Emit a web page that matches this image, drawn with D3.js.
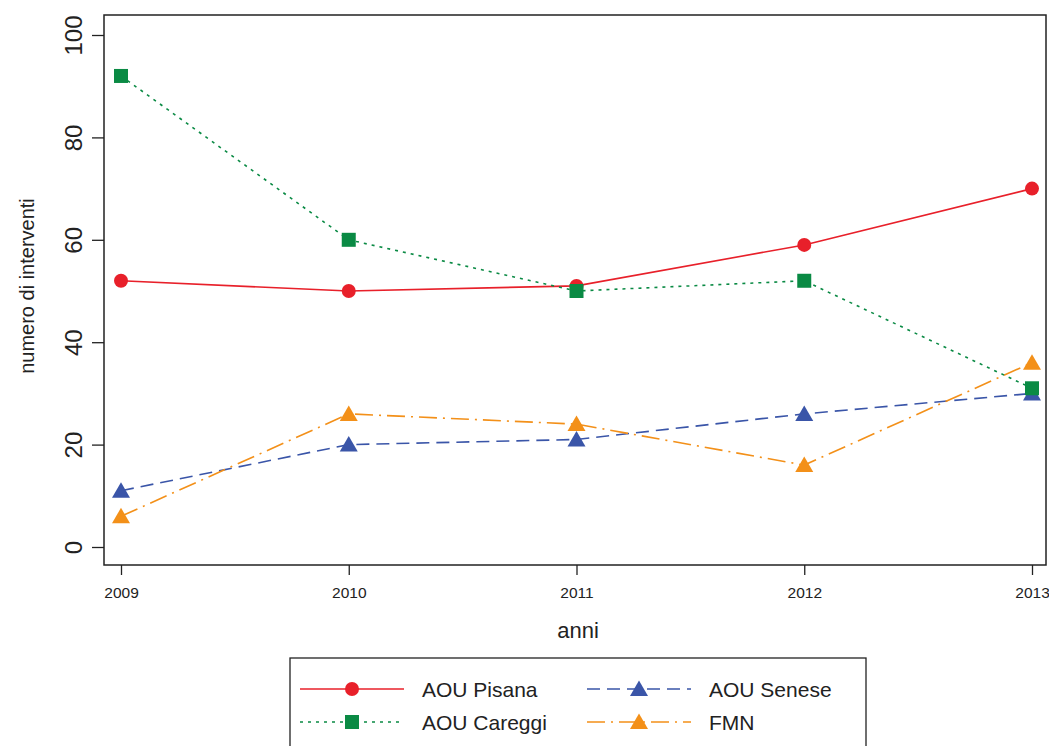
<!DOCTYPE html>
<html><head><meta charset="utf-8">
<script src="https://cdn.jsdelivr.net/npm/d3@7"></script>
<style>body{margin:0;background:#fff;} svg{display:block;font-family:"Liberation Sans",Arial,sans-serif;}</style>
</head><body>
<svg id="c" width="1049" height="746"></svg>
<script>
const years = [2009, 2010, 2011, 2012, 2013];
const pisana = [52, 50, 51, 59, 70];
const careggi = [92, 60, 50, 52, 31];
const senese = [11, 20, 21, 26, 30];
const fmn = [6, 26, 24, 16, 36];
const yTicks = [0, 20, 40, 60, 80, 100];
const seriesNames = ["AOU Pisana", "AOU Careggi", "AOU Senese", "FMN"];

const series = [
  {name: seriesNames[2], values: senese, color: "#3a55a8", dash: "13,7", marker: "triangle"},
  {name: seriesNames[3], values: fmn, color: "#f39019", dash: "18,6,2,6", marker: "triangle"},
  {name: seriesNames[0], values: pisana, color: "#e8202a", dash: null, marker: "circle"},
  {name: seriesNames[1], values: careggi, color: "#0a8a44", dash: "3,5", marker: "square"}
];

const svg = d3.select("#c");
const box = {left: 104, right: 1046, top: 15, bottom: 565};
const x = d3.scalePoint().domain(years).range([121, 1032]);
const y = d3.scaleLinear().domain([0, 100]).range([547, 35]);

svg.append("rect").attr("x", box.left).attr("y", box.top)
  .attr("width", box.right - box.left).attr("height", box.bottom - box.top)
  .attr("fill", "none").attr("stroke", "#222").attr("stroke-width", 1.5);

// y axis
const yAxis = svg.append("g").attr("transform", `translate(${box.left},0)`)
  .call(d3.axisLeft(y).tickValues(yTicks).tickSize(12).tickFormat(d3.format("d")));
yAxis.select(".domain").remove();
yAxis.selectAll(".tick line").attr("stroke", "#222").attr("stroke-width", 1.3);
yAxis.selectAll(".tick text").attr("font-size", 24).attr("fill", "#222")
  .attr("transform", "rotate(-90)").attr("x", 0).attr("y", -22)
  .attr("dy", 0).attr("text-anchor", "middle");

// x axis
const xAxis = svg.append("g").attr("transform", `translate(0,${box.bottom})`)
  .call(d3.axisBottom(x).tickSize(10).tickFormat(d3.format("d")));
xAxis.select(".domain").remove();
xAxis.selectAll(".tick line").attr("stroke", "#222").attr("stroke-width", 1.3);
xAxis.selectAll(".tick text").attr("font-size", 15.5).attr("fill", "#222")
  .attr("y", 33).attr("dy", 0);

svg.append("text").attr("x", 578).attr("y", 638).attr("text-anchor", "middle")
  .attr("font-size", 22).attr("fill", "#222").text("anni");
svg.append("text").attr("transform", "translate(34,286) rotate(-90)")
  .attr("text-anchor", "middle").attr("font-size", 20).attr("fill", "#222").text("numero di interventi");

function marker(g, type, cx, cy, color) {
  if (type === "circle") g.append("circle").attr("cx", cx).attr("cy", cy).attr("r", 7).attr("fill", color);
  else if (type === "square") g.append("rect").attr("x", cx - 7).attr("y", cy - 7).attr("width", 14).attr("height", 14).attr("fill", color);
  else g.append("path").attr("d", `M${cx},${cy - 8.5}L${cx + 9},${cy + 7}L${cx - 9},${cy + 7}Z`).attr("fill", color);
}

const line = d3.line().x((d, i) => x(years[i])).y(d => y(d));
series.forEach(s => {
  const g = svg.append("g");
  g.append("path").attr("d", line(s.values)).attr("fill", "none").attr("stroke", s.color)
    .attr("stroke-width", 1.6).attr("stroke-dasharray", s.dash);
  s.values.forEach((v, i) => marker(g, s.marker, x(years[i]), y(v), s.color));
});

// legend
svg.append("rect").attr("x", 290).attr("y", 658).attr("width", 576).attr("height", 100)
  .attr("fill", "none").attr("stroke", "#222").attr("stroke-width", 1.3);
const leg = [
  {s: series.find(d => d.name === seriesNames[0]), lx: 300, row: 689},
  {s: series.find(d => d.name === seriesNames[1]), lx: 300, row: 722},
  {s: series.find(d => d.name === seriesNames[2]), lx: 587, row: 689},
  {s: series.find(d => d.name === seriesNames[3]), lx: 587, row: 722}
];
leg.forEach(L => {
  const g = svg.append("g");
  g.append("line").attr("x1", L.lx).attr("x2", L.lx + 104).attr("y1", L.row).attr("y2", L.row)
    .attr("stroke", L.s.color).attr("stroke-width", 1.6).attr("stroke-dasharray", L.s.dash);
  marker(g, L.s.marker, L.lx + 52, L.row, L.s.color);
  g.append("text").attr("x", L.lx + 122).attr("y", L.row + 8).attr("font-size", 21).attr("fill", "#222").text(L.s.name);
});
</script>
</body></html>
